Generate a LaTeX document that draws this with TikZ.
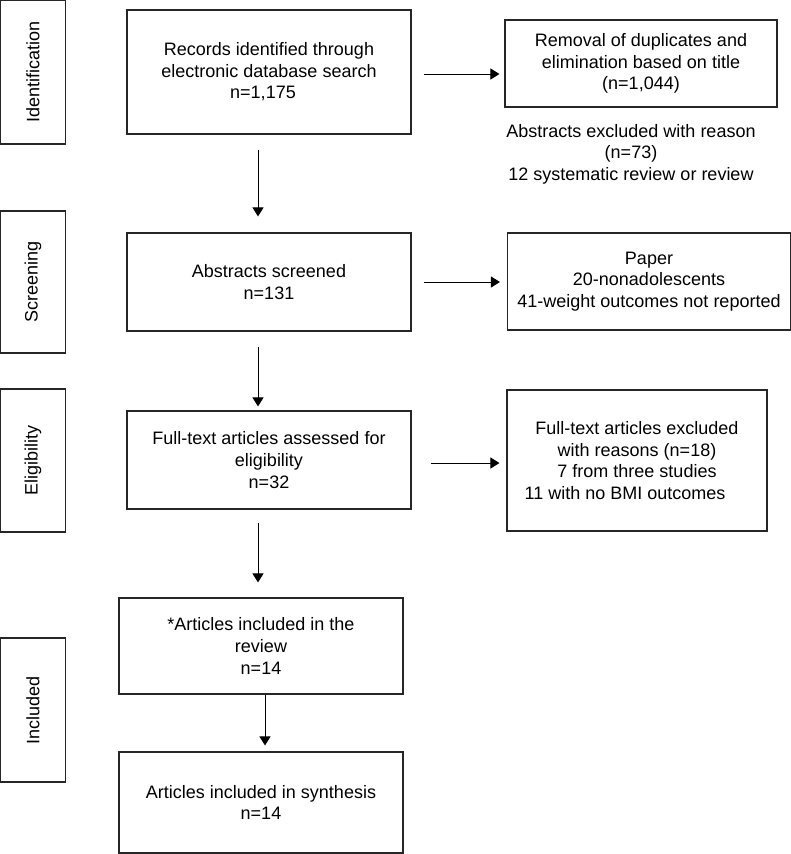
\documentclass[tikz,border=0pt]{standalone}
\usepackage{fontspec}
\setmainfont{Liberation Sans}
\usetikzlibrary{arrows.meta}
\begin{document}
\begin{tikzpicture}[x=1pt,y=-1pt,
  every node/.style={font=\fontsize{18}{21.6}\selectfont, text=black},
  box/.style={draw=black!85, line width=1.1pt, rectangle, inner sep=0pt, align=center},
  side/.style={box, minimum width=65pt},
  arr/.style={draw=black, line width=1pt, -{Triangle[length=9pt,width=11pt]}}]
\useasboundingbox (0,0) rectangle (791,854);
% stage labels
\node[side, minimum height=144pt] (sid) at (33,72) {};
\node[rotate=90] at (sid) {Identification};
\node[side, minimum height=142pt] (ssc) at (33,282) {};
\node[rotate=90] at (ssc) {Screening};
\node[side, minimum height=143pt] (sel) at (33,460.5) {};
\node[rotate=90] at (sel) {Eligibility};
\node[side, minimum height=144pt] (sin) at (33,710) {};
\node[rotate=90] at (sin) {Included};
% main column
\node[box, minimum width=284pt, minimum height=124pt] (b1) at (269,72)
  {Records identified through\\electronic database search\\n=1,175\hbox to 12pt{}};
\node[box, minimum width=284pt, minimum height=98pt] (b2) at (269,282)
  {Abstracts screened\\n=131};
\node[box, minimum width=284pt, minimum height=98pt] (b3) at (269,460)
  {Full-text articles assessed for\\eligibility\\n=32};
\node[box, minimum width=284pt, minimum height=96pt] (b4) at (261,646)
  {*Articles included in the\\review\\n=14};
\node[box, minimum width=284pt, minimum height=101pt] (b5) at (261,802.5)
  {Articles included in synthesis\\n=14};
% right column
\node[box, minimum width=272pt, minimum height=87pt] (r1) at (641,63.5)
  {Removal of duplicates and\\elimination based on title\\(n=1,044)};
\node[align=center, inner sep=0pt] (t1) at (631,154)
  {Abstracts excluded with reason\\(n=73)\\12 systematic review or review};
\node[box, minimum width=283pt, minimum height=97pt] (r2) at (649,281.5)
  {Paper\\20-nonadolescents\\41-weight outcomes not reported};
\node[box, minimum width=260pt, minimum height=141pt] (r3) at (637,460.5)
  {Full-text articles excluded\\with reasons (n=18)\\7 from three studies\\11 with no BMI outcomes\hbox to 24pt{}};
% vertical arrows
\draw[arr, shorten <=15pt, shorten >=16pt] ([xshift=-11pt]b1.south) -- ([xshift=-11pt]b2.north);
\draw[arr, shorten <=15pt, shorten >=4pt] ([xshift=-11pt]b2.south) -- ([xshift=-11pt]b3.north);
\draw[arr, shorten <=13pt, shorten >=15pt] ([xshift=-11pt]b3.south) -- ([xshift=-3pt]b4.north);
\draw[arr, shorten >=6pt] ([xshift=4pt]b4.south) -- ([xshift=4pt]b5.north);
% horizontal arrows
\draw[arr, shorten <=12pt, shorten >=5pt] ([yshift=-2pt]b1.east) -- ([yshift=-2pt]b1.east -| r1.west);
\draw[arr, shorten <=12pt, shorten >=7pt] (b2.east) -- (b2.east -| r2.west);
\draw[arr, shorten <=19pt, shorten >=7pt] ([yshift=-3pt]b3.east) -- ([yshift=-3pt]b3.east -| r3.west);
\end{tikzpicture}
\end{document}
